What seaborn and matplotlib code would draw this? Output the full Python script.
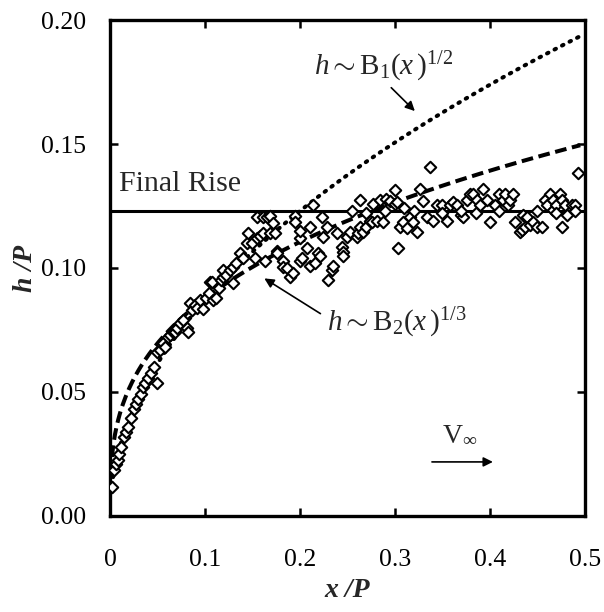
import numpy as np
import pandas as pd
import matplotlib
matplotlib.use("Agg")
import matplotlib.pyplot as plt
import seaborn as sns

# Measured rise height versus downstream distance (both scaled by P)
x_obs = [0.002, 0.004, 0.006, 0.0084, 0.010, 0.0116, 0.0147, 0.017, 0.019, 0.022,
         0.025, 0.027, 0.029, 0.033, 0.035, 0.037, 0.040, 0.043, 0.046, 0.050,
         0.050, 0.053, 0.056, 0.058, 0.061, 0.063, 0.066, 0.068, 0.071, 0.074,
         0.077, 0.081, 0.082, 0.084, 0.086, 0.089, 0.092, 0.095, 0.098, 0.101,
         0.104, 0.105, 0.107, 0.108, 0.112, 0.115, 0.117, 0.119, 0.119, 0.122,
         0.126, 0.129, 0.130, 0.133, 0.137, 0.140, 0.144, 0.145, 0.149, 0.153,
         0.155, 0.155, 0.158, 0.161, 0.161, 0.163, 0.165, 0.168, 0.168, 0.172,
         0.174, 0.176, 0.176, 0.182, 0.182, 0.186, 0.189, 0.193, 0.195, 0.195,
         0.200, 0.200, 0.200, 0.202, 0.207, 0.211, 0.211, 0.214, 0.216, 0.219,
         0.221, 0.223, 0.224, 0.228, 0.229, 0.234, 0.235, 0.239, 0.244, 0.245,
         0.245, 0.249, 0.253, 0.260, 0.261, 0.263, 0.263, 0.266, 0.270, 0.274,
         0.276, 0.277, 0.281, 0.284, 0.287, 0.291, 0.295, 0.300, 0.300, 0.302,
         0.303, 0.305, 0.308, 0.313, 0.316, 0.319, 0.323, 0.326, 0.330, 0.334,
         0.337, 0.340, 0.344, 0.349, 0.355, 0.358, 0.361, 0.365, 0.370, 0.372,
         0.376, 0.379, 0.382, 0.386, 0.389, 0.393, 0.397, 0.400, 0.405, 0.410,
         0.414, 0.416, 0.419, 0.421, 0.424, 0.426, 0.432, 0.434, 0.435, 0.437,
         0.439, 0.442, 0.445, 0.450, 0.455, 0.458, 0.460, 0.463, 0.466, 0.466,
         0.470, 0.474, 0.476, 0.476, 0.479, 0.481, 0.486, 0.489, 0.493,
         0.255, 0.270, 0.290, 0.310, 0.320, 0.350, 0.370, 0.385, 0.410, 0.450,
         0.470, 0.490]
h_obs = [0.0117, 0.0185, 0.021, 0.0226, 0.025, 0.0278, 0.032, 0.034, 0.036, 0.0395,
         0.043, 0.045, 0.047, 0.049, 0.052, 0.0536, 0.0556, 0.0577, 0.060, 0.0536,
         0.066, 0.067, 0.0698, 0.068, 0.072, 0.073, 0.074, 0.074, 0.076, 0.078,
         0.079, 0.076, 0.074, 0.086, 0.083, 0.085, 0.084, 0.087, 0.0835, 0.088,
         0.090, 0.0943, 0.0944, 0.087, 0.088, 0.092, 0.095, 0.0964, 0.099, 0.097,
         0.099, 0.1005, 0.094, 0.102, 0.106, 0.104, 0.110, 0.114, 0.110, 0.104,
         0.112, 0.1206, 0.113, 0.1206, 0.114, 0.103, 0.1206, 0.114, 0.121, 0.118,
         0.114, 0.107, 0.106, 0.103, 0.1005, 0.100, 0.0964, 0.098, 0.121, 0.1185,
         0.103, 0.112, 0.115, 0.104, 0.108, 0.101, 0.1165, 0.1254, 0.102, 0.106,
         0.105, 0.1206, 0.1125, 0.1165, 0.095, 0.099, 0.101, 0.114, 0.1085, 0.1065,
         0.105, 0.1125, 0.1145, 0.1125, 0.114, 0.1165, 0.1274, 0.1145, 0.1165, 0.119,
         0.1185, 0.126, 0.119, 0.1274, 0.1185, 0.128, 0.127, 0.1315, 0.126, 0.1266,
         0.108, 0.1165, 0.1185, 0.116, 0.1206, 0.1185, 0.1145, 0.132, 0.127, 0.1206,
         0.1407, 0.119, 0.1254, 0.1254, 0.119, 0.1254, 0.1266, 0.1254, 0.1214, 0.1206,
         0.1274, 0.130, 0.130, 0.1274, 0.1254, 0.132, 0.1274, 0.1185, 0.1254, 0.130,
         0.1274, 0.130, 0.1254, 0.1274, 0.130, 0.1185, 0.1145, 0.1155, 0.1214, 0.1165,
         0.1206, 0.1173, 0.1185, 0.1165, 0.1165, 0.1274, 0.1254, 0.130, 0.1274, 0.1234,
         0.1254, 0.130, 0.1274, 0.1165, 0.1254, 0.1214, 0.1254, 0.1254, 0.1383,
         0.123, 0.122, 0.123, 0.124, 0.123, 0.122, 0.123, 0.122, 0.123, 0.123,
         0.122, 0.123]

# Power-law fits and the asymptotic rise
B1, n1 = 0.275, 1 / 2
B2, n2 = 0.189, 1 / 3
final_rise = 0.123

x_ticks = [0, 0.1, 0.2, 0.3, 0.4, 0.5]
x_tick_labels = ["0", "0.1", "0.2", "0.3", "0.4", "0.5"]
y_ticks = [0.00, 0.05, 0.10, 0.15, 0.20]
y_tick_labels = ["0.00", "0.05", "0.10", "0.15", "0.20"]

sns.set_style("ticks")
plt.rcParams["font.family"] = ["Liberation Serif", "DejaVu Serif"]
plt.rcParams["mathtext.fontset"] = "custom"
plt.rcParams["mathtext.rm"] = "Liberation Serif"
plt.rcParams["mathtext.it"] = "Liberation Serif:italic"
plt.rcParams["mathtext.bf"] = "Liberation Serif:bold"

fig = plt.figure(figsize=(6.04, 6.12), dpi=100)
ax = fig.add_axes([0.1821, 0.1569, 0.7864, 0.8104])

obs = pd.DataFrame({"x": x_obs, "h": h_obs})
xs = np.linspace(0.002, 0.495, 300)
fits = pd.DataFrame({"x": xs, "sqrt": B1 * xs ** n1, "cbrt": B2 * xs ** n2})

sns.lineplot(data=fits, x="x", y="sqrt", ax=ax, color="black", lw=2.9,
             linestyle=(0, (0.4, 1.7)), dash_capstyle="round")
sns.lineplot(data=fits, x="x", y="cbrt", ax=ax, color="black", lw=2.9,
             linestyle=(0, (2.9, 1.4)))
ax.axhline(final_rise, color="black", lw=2.2)
sns.scatterplot(data=obs, x="x", y="h", ax=ax, marker="D", s=34,
                facecolor="white", edgecolor="black", linewidth=1.5, zorder=3)

ax.set_xlim(0, 0.5)
ax.set_ylim(0, 0.20)
ax.set_xticks(x_ticks, x_tick_labels)
ax.set_yticks(y_ticks, y_tick_labels)
ax.tick_params(direction="in", length=6, width=1.8, labelsize=18.5,
               top=True, right=True, colors="black")
ax.tick_params(axis="x", pad=24)
ax.tick_params(axis="y", pad=17)
for sp in ax.spines.values():
    sp.set_linewidth(2.4)
    sp.set_color("black")

ax.set_xlabel("x /P", fontsize=20, fontweight="bold", fontstyle="italic", labelpad=5)
ax.set_ylabel("h /P", fontsize=20, fontweight="bold", fontstyle="italic", labelpad=2)

ax.text(0.010, 0.1285, "Final Rise", fontsize=21.5, va="bottom", ha="left")
ax.text(0.215, 0.178, r"$h \sim \mathrm{B}_1(x\,)^{1/2}$", fontsize=21,
        va="baseline", ha="left")
ax.annotate("", xy=(0.323, 0.1625), xytext=(0.294, 0.1735),
            arrowprops=dict(arrowstyle="-|>", color="black", lw=1.2,
                            mutation_scale=14))
ax.text(0.228, 0.0745, r"$h \sim \mathrm{B}_2(x\,)^{1/3}$", fontsize=21,
        va="baseline", ha="left")
ax.annotate("", xy=(0.160, 0.0964), xytext=(0.224, 0.081),
            arrowprops=dict(arrowstyle="-|>", color="black", lw=1.2,
                            mutation_scale=14))
ax.text(0.368, 0.030, r"V$_\infty$", fontsize=20, ha="center", va="baseline")
ax.annotate("", xy=(0.406, 0.0218), xytext=(0.336, 0.0218),
            arrowprops=dict(arrowstyle="-|>", color="black", lw=1.2,
                            mutation_scale=14))

fig.savefig("out.png", dpi=100)
